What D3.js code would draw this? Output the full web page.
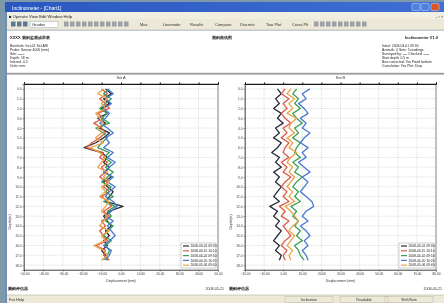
<!DOCTYPE html>
<html>
<head>
<meta charset="utf-8">
<script src="https://cdn.jsdelivr.net/npm/d3@7"></script>
<style>
  html, body { margin: 0; padding: 0; overflow: hidden; background: #7f98aa; }
  text { font-family: "Liberation Sans", Arial, sans-serif; }
</style>
</head>
<body>
<svg id="viz" width="444" height="303"></svg>
<script>
// depth of each reading (m)
const depths = [0, 0.5, 1, 1.5, 2, 2.5, 3, 3.5, 4, 4.5, 5, 5.5, 6, 6.5, 7, 7.5, 8, 8.5,
  9, 9.5, 10, 10.5, 11, 11.5, 12, 12.5, 13, 13.5, 14, 14.5, 15, 15.5, 16, 16.5, 17, 17.5];
const depthTicks = [0, 1, 2, 3, 4, 5, 6, 7, 8, 9, 10, 11, 12, 13, 14, 15, 16, 17, 18];

const seriesNames = ["2008-03-01 09:30", "2008-03-15 10:10", "2008-04-02 09:50", "2008-04-20 10:20", "2008-05-06 09:40"];
const seriesColors = ["#2a2a3a", "#e05a48", "#3d9f58", "#4a78d0", "#e8a447"];

// Set A readings (mm)
const setA = [
  [-8, -5, -9, -6, -10, -7, -12, -8, -11, -6, -9, -13, -19, -10, -7, -9, -6, -8, -5, -9, -7, -4, -6, -8, 1, -6, -9, -7, -5, -8, -6, -9, -7, -10, -8, -7],
  [-10, -7, -11, -8, -6, -12, -9, -14, -10, -8, -11, -15, -18, -9, -11, -7, -10, -8, -11, -7, -9, -6, -10, -7, -5, -9, -6, -10, -8, -11, -9, -7, -13, -8, -9, -6],
  [-6, -9, -5, -8, -11, -7, -10, -6, -13, -9, -7, -10, -12, -6, -9, -5, -8, -4, -7, -10, -5, -8, -4, -9, -3, -7, -5, -8, -4, -7, -9, -5, -8, -6, -7, -9],
  [-7, -4, -8, -5, -9, -6, -8, -11, -7, -4, -8, -6, -9, -4, -7, -3, -6, -9, -4, -7, -3, -6, -8, -4, -2, -5, -8, -4, -7, -5, -3, -6, -9, -5, -6, -8],
  [-9, -12, -7, -10, -8, -13, -11, -9, -12, -10, -13, -9, -16, -11, -8, -10, -12, -7, -9, -6, -10, -8, -11, -6, -8, -10, -7, -9, -11, -6, -10, -8, -14, -9, -7, -10]
];
// Set B readings (mm)
const setB = [
  [-3, -1, -4, -2, -5, -1, -3, 0, -4, -2, -5, -1, -3, -6, -2, -4, -1, -5, -2, -4, -1, -3, -5, -2, -7, -3, -5, -2, -4, -1, -3, -5, -2, -4, -1, -2],
  [1, -1, 3, 0, 2, -1, 1, 4, 0, 2, -1, 3, 1, 0, 3, -1, 2, 0, 4, 1, -1, 2, 0, 3, -2, 1, -1, 3, 0, 2, 4, 1, -1, 2, 0, 1],
  [7, 5, 8, 6, 9, 5, 7, 10, 6, 8, 5, 9, 7, 6, 9, 5, 8, 6, 10, 7, 5, 8, 6, 9, 4, 7, 5, 8, 6, 9, 7, 10, 6, 8, 9, 11],
  [14, 10, 12, 8, 11, 13, 9, 12, 10, 14, 11, 9, 13, 10, 12, 8, 11, 14, 10, 13, 11, 9, 12, 15, 16, 12, 10, 13, 9, 12, 14, 11, 13, 10, 12, 13],
  [4, 2, 6, 3, 5, 2, 7, 4, 3, 6, 2, 5, 3, 7, 4, 2, 5, 3, 6, 4, 2, 5, 3, 6, 1, 4, 6, 8, 5, 3, 6, 4, 2, 5, 3, 4]
];
const ticksA = [-50, -40, -30, -20, -10, 0, 10, 20, 30, 40, 50];
const ticksB = [-20, -10, 0, 10, 20, 30, 40, 50, 60, 70, 80];

const root = d3.select("#viz");
const defs = root.append("defs");
// the reference is a soft, scaled-down screenshot
defs.append("filter").attr("id", "soft").append("feGaussianBlur").attr("stdDeviation", 0.35);
const svg = root.append("g").attr("filter", "url(#soft)");

// ---- window chrome ----
const grad = defs.append("linearGradient").attr("id", "tb").attr("x1", 0).attr("x2", 1);
grad.append("stop").attr("offset", "0").attr("stop-color", "#2a58c0");
grad.append("stop").attr("offset", "1").attr("stop-color", "#3f6fd4");

svg.append("rect").attr("width", 444).attr("height", 303).attr("fill", "#7f98aa");
svg.append("rect").attr("x", 5).attr("y", 2).attr("width", 439).attr("height", 301).attr("fill", "#6d8fb8");
svg.append("rect").attr("x", 5).attr("y", 2).attr("width", 439).attr("height", 10).attr("fill", "url(#tb)");
svg.append("text").attr("x", 12).attr("y", 9.5).attr("font-size", 5).attr("fill", "#fff").text("Inclinometer - [Chart1]");
[[412, "#4d7fe0"], [421, "#4d7fe0"], [431, "#d9542c"]].forEach(([bx, c]) => {
  svg.append("rect").attr("x", bx).attr("y", 3.5).attr("width", 8).attr("height", 7).attr("rx", 1)
    .attr("fill", c).attr("stroke", "#fff").attr("stroke-width", 0.4);
});

svg.append("rect").attr("x", 7).attr("y", 12).attr("width", 437).attr("height", 7).attr("fill", "#f1efe2");
svg.append("text").attr("x", 9).attr("y", 17.5).attr("font-size", 4.2).attr("fill", "#222")
  .text("■ Operate   View   Edit   Window   Help");
svg.append("text").attr("x", 436).attr("y", 17.5).attr("font-size", 4).attr("fill", "#444").text("- ▫ ×");

svg.append("rect").attr("x", 7).attr("y", 19).attr("width", 437).attr("height", 11).attr("fill", "#ece9d8");
svg.append("line").attr("x1", 7).attr("x2", 444).attr("y1", 30).attr("y2", 30).attr("stroke", "#b8b4a0").attr("stroke-width", 0.6);
// toolbar icons
[11, 17, 23, 64, 70, 76, 82, 88, 94, 100, 106, 112, 118, 124, 314, 320, 326, 332, 338, 344, 350, 356, 362].forEach(ix => {
  svg.append("rect").attr("x", ix).attr("y", 21.5).attr("width", 4.5).attr("height", 5)
    .attr("fill", ix < 30 ? "#3a5a8a" : "#8a8f9a").attr("opacity", 0.8);
});
svg.append("rect").attr("x", 30).attr("y", 21.5).attr("width", 28).attr("height", 6).attr("fill", "#fff").attr("stroke", "#7f9db9").attr("stroke-width", 0.4);
svg.append("text").attr("x", 32).attr("y", 26.2).attr("font-size", 4).attr("fill", "#222").text("Grades");
const tbButtons = [["Max", 140], ["Linemode", 163], ["Results", 190], ["Compare", 215], ["Discrete", 240], ["Two Plot", 266], ["Cross Plt", 292]];
tbButtons.forEach(([t, bx]) => {
  svg.append("text").attr("x", bx).attr("y", 26.2).attr("font-size", 4).attr("fill", "#333").text(t);
});

// client area
svg.append("rect").attr("x", 7).attr("y", 30.5).attr("width", 437).attr("height", 264.5).attr("fill", "#fff");

// header
const hdr = svg.append("g").attr("font-size", 4).attr("fill", "#222");
hdr.append("text").attr("x", 10).attr("y", 39).attr("font-weight", "bold").text("XXXX 测斜监测成果表").attr("font-family", "Noto Sans CJK SC");
hdr.append("text").attr("x", 222).attr("y", 39).attr("text-anchor", "middle").attr("font-weight", "bold").text("测斜曲线图").attr("font-family", "Noto Sans CJK SC");
hdr.append("text").attr("x", 438).attr("y", 39).attr("text-anchor", "end").attr("font-weight", "bold").text("Inclinometer V1.0");
["Borehole: Incl-01  Set A/B", "Probe: Sensor 4005 (mm)", "Site: ------", "Depth: 18 m", "Interval: 0.5", "Units: mm"]
  .forEach((t, i) => hdr.append("text").attr("x", 10).attr("y", 47 + i * 4).attr("font-size", 3.4).text(t));
["Initial: 2008-03-01 09:30", "Azimuth: 0  Sets: 5 readings", "Surveyed by: ----  Checked: -----", "Start depth: 0.5 m",
  "Bias corrected: Yes  Fixed bottom", "Cumulative: Yes  Plot: Disp."]
  .forEach((t, i) => hdr.append("text").attr("x", 382).attr("y", 47 + i * 4).attr("font-size", 3.4).text(t));
svg.append("rect").attr("x", 7).attr("y", 72.8).attr("width", 437).attr("height", 1.8).attr("fill", "#9a9a9a");

// ---- charts ----
const line = (x, y) => d3.line().x(d => x(d)).y((d, i) => y(depths[i]));

function drawChart(left, right, top, bottom, domain, ticks, data, title, footL, footR) {
  const x = d3.scaleLinear().domain(domain).range([left, right]);
  const y = d3.scaleLinear().domain([-0.5, 18.5]).range([top, bottom]);
  const g = svg.append("g");

  g.append("text").attr("x", (left + right) / 2).attr("y", 78.5).attr("text-anchor", "middle")
    .attr("font-size", 3.8).attr("fill", "#333").text(title);

  // grid
  g.append("g").selectAll("line").data(ticks).join("line")
    .attr("x1", d => x(d)).attr("x2", d => x(d)).attr("y1", top).attr("y2", bottom)
    .attr("stroke", "#bfd2bf").attr("stroke-width", 0.6).attr("stroke-dasharray", "1.2,1");
  g.append("g").selectAll("line").data(depthTicks).join("line")
    .attr("x1", left).attr("x2", right).attr("y1", d => y(d)).attr("y2", d => y(d))
    .attr("stroke", "#bfd2bf").attr("stroke-width", 0.6).attr("stroke-dasharray", "1.2,1");

  // axes
  const ax = g.append("g").attr("transform", `translate(0,${bottom})`)
    .call(d3.axisBottom(x).tickValues(ticks).tickFormat(d3.format(".2f")).tickSize(1.5).tickPadding(1));
  const ay = g.append("g").attr("transform", `translate(${left},0)`)
    .call(d3.axisLeft(y).tickValues(depthTicks).tickFormat(d3.format(".1f")).tickSize(1.5).tickPadding(1));
  g.append("g").attr("transform", `translate(0,${top})`)
    .call(d3.axisTop(x).tickValues(ticks).tickFormat("").tickSize(1.5));
  [ax, ay].forEach(a => {
    a.selectAll("text").attr("font-size", 3.2).attr("fill", "#333").attr("font-family", "Liberation Sans");
    a.select(".domain").attr("stroke", "#444").attr("stroke-width", 0.6);
    a.selectAll(".tick line").attr("stroke", "#444").attr("stroke-width", 0.5);
  });
  g.append("rect").attr("x", left).attr("y", top).attr("width", right - left).attr("height", bottom - top)
    .attr("fill", "none").attr("stroke", "#444").attr("stroke-width", 0.6);

  g.append("text").attr("x", (left + right) / 2).attr("y", 281.5).attr("text-anchor", "middle")
    .attr("font-size", 3.4).attr("fill", "#333").text("Displacement (mm)");
  g.append("text").attr("transform", `translate(${left - 13},${(top + bottom) / 2 + 45}) rotate(-90)`)
    .attr("text-anchor", "middle").attr("font-size", 3.4).attr("fill", "#333").text("Depth (m)");

  // series
  data.forEach((s, i) => {
    g.append("path").datum(s).attr("d", line(x, y)).attr("fill", "none")
      .attr("stroke", seriesColors[i]).attr("stroke-width", 1.3).attr("stroke-linejoin", "round");
  });

  // legend
  const lg = g.append("g").attr("transform", `translate(${right - 37},${bottom - 27})`);
  lg.append("rect").attr("width", 35).attr("height", 25).attr("fill", "#fff").attr("stroke", "#888").attr("stroke-width", 0.4);
  seriesNames.forEach((n, i) => {
    lg.append("line").attr("x1", 2).attr("x2", 8).attr("y1", 3 + i * 4.8).attr("y2", 3 + i * 4.8)
      .attr("stroke", seriesColors[i]).attr("stroke-width", 1.2);
    lg.append("text").attr("x", 9.5).attr("y", 4.2 + i * 4.8).attr("font-size", 3.3).attr("fill", "#222").text(n);
  });

  // footer
  g.append("text").attr("x", left - 16).attr("y", 289.5).attr("font-size", 4.4).attr("font-weight", "bold")
    .attr("font-family", "Noto Sans CJK SC").attr("fill", "#111").text(footL);
  g.append("text").attr("x", right + 6).attr("y", 289.5).attr("text-anchor", "end").attr("font-size", 3.6)
    .attr("fill", "#333").text(footR);
}

drawChart(24, 218, 84, 270, [-50, 50], ticksA, setA, "Set A", "测斜评估器", "2008-05-21");
drawChart(245, 436, 84, 270, [-20, 80], ticksB, setB, "Set B", "测斜评估器", "2008-05-21");

// status bar
svg.append("rect").attr("x", 7).attr("y", 295).attr("width", 437).attr("height", 8).attr("fill", "#ece9d8");
svg.append("line").attr("x1", 7).attr("x2", 444).attr("y1", 295).attr("y2", 295).attr("stroke", "#b8b4a0").attr("stroke-width", 0.6);
svg.append("text").attr("x", 9).attr("y", 301).attr("font-size", 4).attr("fill", "#333").text("For Help");
[[285, "Inclination"], [340, "Readable"], [385, "Shift/Sum"]].forEach(([sx, t]) => {
  svg.append("rect").attr("x", sx).attr("y", 296.2).attr("width", 48).attr("height", 6).attr("fill", "none").attr("stroke", "#b0ac98").attr("stroke-width", 0.4);
  svg.append("text").attr("x", sx + 24).attr("y", 300.8).attr("text-anchor", "middle").attr("font-size", 3.6).attr("fill", "#333").text(t);
});
</script>
</body>
</html>
